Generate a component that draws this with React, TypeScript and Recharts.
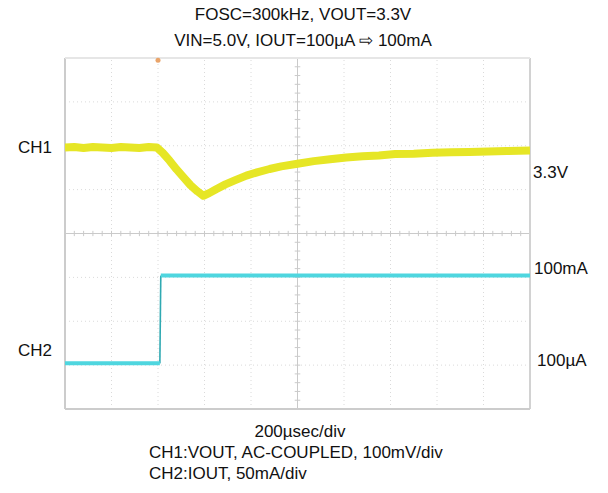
import React from "react";
import { LineChart, Line, XAxis, YAxis, ReferenceLine, ReferenceDot } from "recharts";

// time axis in µs (200 µs/div, 10 divisions)
const ch1Time = [0, 40, 80, 120, 160, 200, 240, 280, 320, 360, 395, 420, 450, 480, 510, 540, 570, 595, 620, 650, 690, 730, 780, 830, 880, 930, 1000, 1070, 1140, 1210, 1280, 1350, 1420, 1500, 1580, 1660, 1740, 1820, 1900, 2000];
// CH1: VOUT deviation from 3.3V in mV (AC-coupled)
const ch1Values = [0, 1, -1, 1, 0, -1, 1, 0, -1, 1, 0, -12, -30, -50, -68, -86, -100, -110, -104, -95, -84, -75, -64, -56, -49, -43, -37, -31, -27, -23, -20, -18, -15, -14, -12, -11, -10, -9, -8, -7];
// CH2: IOUT in mA (level segments, gap at the step)
const ch2Time = [0, 408, 410, 412, 2000];
const ch2Values: (number | null)[] = [0, 0, null, 100, 100];
// CH2 step edge
const ch2EdgeTime = [408, 410, 412];
const ch2EdgeValues = [0, 50, 100];

const gridDivX = [200, 400, 600, 800, 1000, 1200, 1400, 1600, 1800];
const gridDivY = [1, 2, 3, 5, 6, 7];
const titleLines = ["FOSC=300kHz, VOUT=3.3V", "VIN=5.0V, IOUT=100\u00b5A \u21e8 100mA"];
const footLines = ["200\u00b5sec/div", "CH1:VOUT, AC-COUPLED, 100mV/div", "CH2:IOUT, 50mA/div"];

const ch1Data = ch1Time.map((t, i) => ({ t, v: ch1Values[i] }));
const ch2Data = ch2Time.map((t, i) => ({ t, i: ch2Values[i] }));
const ch2Edge = ch2EdgeTime.map((t, i) => ({ t, i: ch2EdgeValues[i] }));

const minorX: number[] = [];
for (let k = 1; k < 50; k++) minorX.push(k * 40);
const minorY: number[] = [];
for (let k = 1; k < 40; k++) minorY.push(k * 0.2);

const W = 608;
const H = 493;
const M = { top: 58, left: 65, right: 78, bottom: 84 };

export default function App() {
  const font = "'Liberation Sans', Arial, sans-serif";
  return (
    <div style={{ position: "absolute", left: 0, top: 0, width: W, height: H, background: "#fff" }}>
      <LineChart width={W} height={H} margin={M}>
        <XAxis xAxisId="t" type="number" dataKey="t" domain={[0, 2000]} hide allowDataOverflow />
        <YAxis yAxisId="div" type="number" domain={[0, 8]} hide allowDataOverflow />
        <YAxis yAxisId="v" type="number" domain={[-596, 204]} hide allowDataOverflow />
        <YAxis yAxisId="i" type="number" domain={[-52, 348]} hide allowDataOverflow />
        {gridDivX.map((x) =>
          x === 1000 ? null : (
            <ReferenceLine key={"gx" + x} xAxisId="t" yAxisId="div" x={x} stroke="#dadada" strokeDasharray="1 3" />
          )
        )}
        {gridDivY.map((y) => (
          <ReferenceLine key={"gy" + y} xAxisId="t" yAxisId="div" y={y} stroke="#dadada" strokeDasharray="1 3" />
        ))}
        <ReferenceLine xAxisId="t" yAxisId="div" x={1000} stroke="#cacaca" />
        <ReferenceLine xAxisId="t" yAxisId="div" y={4} stroke="#cacaca" />
        {minorX.map((x) => (
          <ReferenceLine key={"mx" + x} xAxisId="t" yAxisId="div" segment={[{ x, y: 3.94 }, { x, y: 4.06 }]} stroke="#cacaca" />
        ))}
        {minorY.map((y) => (
          <ReferenceLine key={"my" + y} xAxisId="t" yAxisId="div" segment={[{ x: 988, y }, { x: 1012, y }]} stroke="#cacaca" />
        ))}
        <ReferenceLine xAxisId="t" yAxisId="div" x={0} stroke="#cccccc" strokeWidth={2} />
        <ReferenceLine xAxisId="t" yAxisId="div" x={2000} stroke="#d2d2d2" strokeWidth={2} />
        <ReferenceLine xAxisId="t" yAxisId="div" y={0} stroke="#cccccc" strokeWidth={2} />
        <ReferenceLine xAxisId="t" yAxisId="div" y={8} stroke="#e6e6e6" strokeWidth={2} />
        <ReferenceDot xAxisId="t" yAxisId="div" x={400} y={7.95} r={2.5} fill="#e9a46a" stroke="none" />
        <Line
          data={ch2Edge}
          xAxisId="t"
          yAxisId="i"
          dataKey="i"
          type="linear"
          stroke="#2fa9b2"
          strokeWidth={1.6}
          dot={false}
          isAnimationActive={false}
        />
        <Line
          data={ch2Data}
          xAxisId="t"
          yAxisId="i"
          dataKey="i"
          type="linear"
          stroke="#4fd6df"
          strokeWidth={4}
          dot={false}
          connectNulls={false}
          isAnimationActive={false}
        />
        <Line
          data={ch1Data}
          xAxisId="t"
          yAxisId="v"
          dataKey="v"
          type="linear"
          stroke="#e6e626"
          strokeWidth={8}
          strokeLinejoin="round"
          dot={false}
          isAnimationActive={false}
        />
      </LineChart>
      <svg width={W} height={H} style={{ position: "absolute", left: 0, top: 0, pointerEvents: "none" }}>
        <g fontFamily={font} fontSize={17} fill="#111">
          <text x={303} y={14} textAnchor="middle" dominantBaseline="central">{titleLines[0]}</text>
          <text x={303} y={40} textAnchor="middle" dominantBaseline="central">{titleLines[1]}</text>
          <text x={18} y={147} dominantBaseline="central">CH1</text>
          <text x={18} y={350} dominantBaseline="central">CH2</text>
          <text x={533} y={172} dominantBaseline="central">3.3V</text>
          <text x={534} y={268} dominantBaseline="central">100mA</text>
          <text x={537} y={360} dominantBaseline="central">100{"\u00b5"}A</text>
          <text x={300} y={431} textAnchor="middle" dominantBaseline="central">{footLines[0]}</text>
          <text x={149} y={452} dominantBaseline="central">{footLines[1]}</text>
          <text x={149} y={473} dominantBaseline="central">{footLines[2]}</text>
        </g>
      </svg>
    </div>
  );
}
